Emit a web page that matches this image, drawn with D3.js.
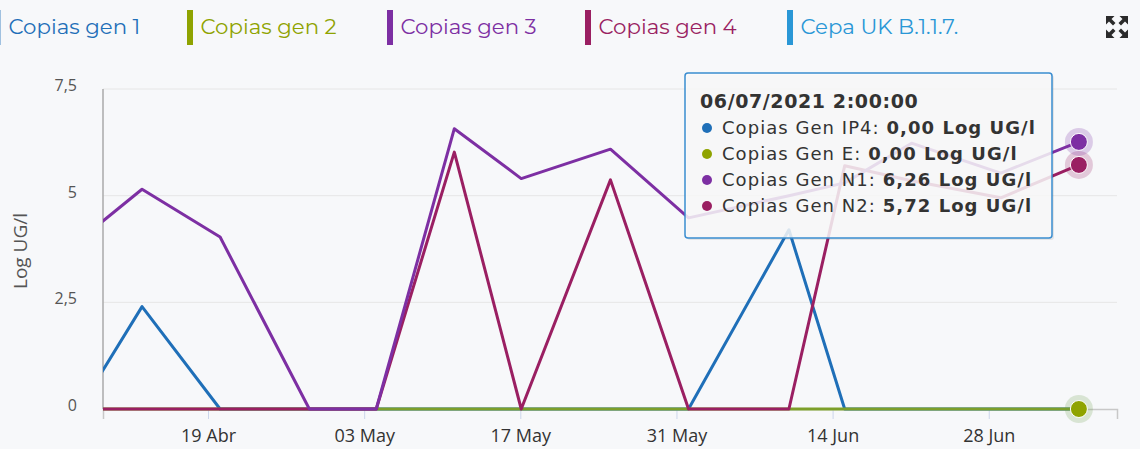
<!DOCTYPE html>
<html>
<head>
<meta charset="utf-8">
<script src="https://cdn.jsdelivr.net/npm/d3@7"></script>
<style>
    body { margin: 0; background: #f7f8fa; }
    svg { display: block; }
</style>
</head>
<body>
<div id="grafico"></div>
<script>
// fechas de muestreo
var dates = ['2021-04-09 02:00', '2021-04-13 02:00', '2021-04-20 02:00', '2021-04-28 02:00', '2021-05-04 02:00',
    '2021-05-11 02:00', '2021-05-17 02:00', '2021-05-25 02:00', '2021-06-01 02:00', '2021-06-10 02:00',
    '2021-06-15 02:00', '2021-06-21 02:00', '2021-06-29 02:00', '2021-07-06 02:00'];
var gen1 = [0.7, 2.4, 0, 0, 0, 0, 0, 0, 0, 4.2, 0, 0, 0, 0];
var gen2 = [0, 0, 0, 0, 0, 0, 0, 0, 0, 0, 0, 0, 0, 0];
var gen3 = [4.3, 5.15, 4.03, 0, 0, 6.57, 5.4, 6.09, 4.48, 5.0, 5.3, 6.23, 5.53, 6.26];
var gen4 = [0, 0, 0, 0, 0, 6.02, 0, 5.37, 0, 0, 5.7, 5.35, 4.95, 5.72];

var legendNames = ['Copias gen 1', 'Copias gen 2', 'Copias gen 3', 'Copias gen 4', 'Cepa UK B.1.1.7.'];
var legendColors = ['#1f6fb8', '#8fa300', '#7d2fa3', '#9a1f62', '#2a97d6'];

var yTicks = [0, 2.5, 5, 7.5];
var yTickLabels = ['0', '2,5', '5', '7,5'];
var xTicks = ['2021-04-19 00:00', '2021-05-03 00:00', '2021-05-17 00:00', '2021-05-31 00:00', '2021-06-14 00:00', '2021-06-28 00:00'];
var xTickLabels = ['19 Abr', '03 May', '17 May', '31 May', '14 Jun', '28 Jun'];
var xMin = '2021-04-09 14:00', xMax = '2021-07-09 12:00';

var tipTitle = '06/07/2021 2:00:00';
var tipNames = ['Copias Gen IP4', 'Copias Gen E', 'Copias Gen N1', 'Copias Gen N2'];

var w = 1140, h = 449;
var ml = 103, mr = 1117, mt = 89, mb = 409;

var parse = d3.utcParse('%Y-%m-%d %H:%M');

var svg = d3.select('#grafico').append('svg')
    .attr('width', w)
    .attr('height', h);

var xscale = d3.scaleUtc()
    .domain([parse(xMin), parse(xMax)])
    .range([ml, mr]);
var yscale = d3.scaleLinear()
    .domain([0, 7.5])
    .range([mb, mt]);

// leyenda
var leg = svg.append('g');
var legX = [-5, 187, 387, 585, 787];
legendNames.forEach(function (n, i) {
    leg.append('rect')
        .attr('x', legX[i])
        .attr('y', 10)
        .attr('width', 6)
        .attr('height', 35)
        .attr('fill', legendColors[i])
        .attr('opacity', i === 0 ? 0.4 : 1);
    leg.append('text')
        .attr('x', legX[i] + 13.5)
        .attr('y', 34)
        .attr('fill', legendColors[i])
        .attr('font-family', 'Montserrat, "Open Sans", sans-serif')
        .attr('font-size', '21.3px')
        .text(n);
});

// icono pantalla completa
var ic = svg.append('g').attr('transform', 'translate(1117,27)').attr('fill', '#2b2b2b');
[0, 90, 180, 270].forEach(function (a) {
    ic.append('path')
        .attr('transform', 'rotate(' + a + ')')
        .attr('d', 'M-11,-11 L-2.5,-11 L-5.5,-8 L-1.5,-4 L-4,-1.5 L-8,-5.5 L-11,-2.5 Z');
});

// rejilla
svg.append('g').selectAll('line')
    .data(yTicks.slice(1))
    .enter()
    .append('line')
    .attr('x1', ml)
    .attr('x2', mr)
    .attr('y1', function (d) { return yscale(d); })
    .attr('y2', function (d) { return yscale(d); })
    .attr('stroke', '#e6e6e6')
    .attr('stroke-width', 1);

// eje y
var yaxis_g = svg.append('g')
    .attr('transform', 'translate(' + ml + ',0)')
    .call(d3.axisLeft(yscale).tickValues(yTicks).tickSize(0).tickPadding(26)
        .tickFormat(function (d, i) { return yTickLabels[i]; }));
yaxis_g.select('.domain').remove();
yaxis_g.selectAll('text')
    .attr('fill', '#555')
    .attr('font-family', '"Open Sans", sans-serif')
    .attr('font-size', '16px')
    .attr('dy', '0.1em');
svg.append('line')
    .attr('x1', ml).attr('x2', ml)
    .attr('y1', mt).attr('y2', mb)
    .attr('stroke', '#aaa')
    .attr('stroke-width', 1.5);

svg.append('text')
    .attr('transform', 'translate(27,' + ((mt + mb) / 2 + 2) + ') rotate(-90)')
    .attr('text-anchor', 'middle')
    .attr('fill', '#555')
    .attr('font-family', '"Open Sans", sans-serif')
    .attr('font-size', '19px')
    .text('Log UG/l');

// eje x
var xaxis_g = svg.append('g')
    .attr('transform', 'translate(0,' + mb + ')')
    .call(d3.axisBottom(xscale).tickValues(xTicks.map(parse)).tickSize(10).tickPadding(10)
        .tickFormat(function (d, i) { return xTickLabels[i]; }));
xaxis_g.select('.domain')
    .attr('stroke', '#c8c8c8')
    .attr('stroke-width', 1.5);
xaxis_g.selectAll('line').attr('stroke', '#ccd6eb');
xaxis_g.selectAll('text')
    .attr('fill', '#333')
    .attr('font-family', '"Open Sans", sans-serif')
    .attr('font-size', '18px');

// lineas
svg.append('clipPath').attr('id', 'plot')
    .append('rect')
    .attr('x', ml).attr('y', 0)
    .attr('width', mr - ml).attr('height', mb + 2);

var series = [
    {name: tipNames[0], values: gen1, color: legendColors[0]},
    {name: tipNames[1], values: gen2, color: '#7d9f2a'},
    {name: tipNames[3], values: gen4, color: legendColors[3]},
    {name: tipNames[2], values: gen3, color: legendColors[2]}
];

var line = d3.line()
    .x(function (d) { return xscale(d.date); })
    .y(function (d) { return yscale(d.value); });

var path_g = svg.append('g').attr('clip-path', 'url(#plot)');
series.forEach(function (s) {
    var pts = dates.map(function (d, i) { return {date: parse(d), value: s.values[i]}; });
    path_g.append('path')
        .attr('d', line(pts))
        .attr('fill', 'none')
        .attr('stroke', s.color)
        .attr('stroke-width', 3)
        .attr('stroke-linejoin', 'round');
});

// puntos resaltados
var last = dates.length - 1;
var marks = [
    {v: gen2[last], c: '#8fa300', halo: '#6f9f4a'},
    {v: gen4[last], c: legendColors[3], halo: legendColors[3]},
    {v: gen3[last], c: legendColors[2], halo: legendColors[2]}
];
var mk_g = svg.append('g');
marks.forEach(function (m) {
    mk_g.append('circle')
        .attr('cx', xscale(parse(dates[last])))
        .attr('cy', yscale(m.v))
        .attr('r', 14)
        .attr('fill', m.halo)
        .attr('opacity', 0.22);
});
marks.forEach(function (m) {
    mk_g.append('circle')
        .attr('cx', xscale(parse(dates[last])))
        .attr('cy', yscale(m.v))
        .attr('r', 8.5)
        .attr('fill', m.c)
        .attr('stroke', '#fff')
        .attr('stroke-width', 1);
});

// tooltip
var tip = svg.append('g').attr('transform', 'translate(685,73)');
tip.append('rect')
    .attr('x', 2).attr('y', 2)
    .attr('width', 367).attr('height', 165)
    .attr('rx', 3)
    .attr('fill', '#000')
    .attr('opacity', 0.08);
tip.append('rect')
    .attr('width', 367).attr('height', 165)
    .attr('rx', 3)
    .attr('fill', 'rgba(250,250,250,0.85)')
    .attr('stroke', '#3a8dd0')
    .attr('stroke-width', 1.5);
tip.append('text')
    .attr('x', 15).attr('y', 35)
    .attr('fill', '#333')
    .attr('font-family', '"DejaVu Sans", sans-serif')
    .attr('font-size', '19px')
    .attr('font-weight', 'bold')
    .attr('letter-spacing', '0.6px')
    .text(tipTitle);
var tipVals = [gen1[last], gen2[last], gen3[last], gen4[last]];
var tipColors = [legendColors[0], '#8fa300', legendColors[2], legendColors[3]];
tipNames.forEach(function (n, i) {
    var y = 61 + i * 26;
    tip.append('circle')
        .attr('cx', 22).attr('cy', y - 6)
        .attr('r', 5)
        .attr('fill', tipColors[i]);
    var t = tip.append('text')
        .attr('x', 37).attr('y', y)
        .attr('fill', '#333')
        .attr('font-family', '"DejaVu Sans", sans-serif')
        .attr('font-size', '18px')
        .attr('letter-spacing', '1.05px');
    t.append('tspan').text(n + ': ');
    t.append('tspan').attr('font-weight', 'bold')
        .text(d3.format('.2f')(tipVals[i]).replace('.', ',') + ' Log UG/l');
});
</script>
</body>
</html>
